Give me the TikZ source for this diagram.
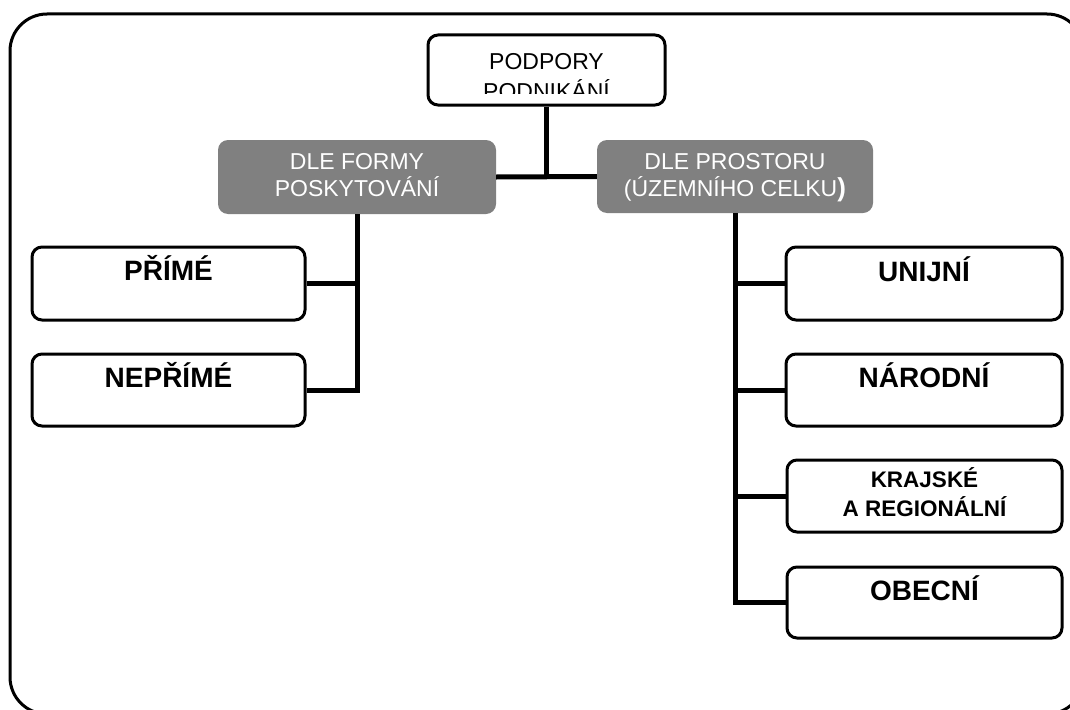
\documentclass[tikz,border=0pt]{standalone}
\usepackage{fontspec}
\setmainfont{Liberation Sans}
\definecolor{boxgrey}{RGB}{128,128,128}
\begin{document}
\begin{tikzpicture}[x=1pt,y=-1pt,
  box/.style={draw=black, line width=3pt, rounded corners=10pt, fill=white, inner sep=0pt},
  greybox/.style={fill=boxgrey, rounded corners=10pt, inner sep=0pt},
  reg/.style={font=\fontsize{23}{27}\selectfont, inner sep=0pt, anchor=base},
  boldtxt/.style={font=\fontsize{28}{28}\selectfont\bfseries, inner sep=0pt, anchor=base},
  smallbold/.style={font=\fontsize{22.5}{22.5}\selectfont\bfseries, inner sep=0pt, anchor=base},
  conn/.style={line width=5pt}]
\useasboundingbox (0,0) rectangle (1070,709);
\fill[white] (0,0) rectangle (1070,709);
\clip (0,0) rectangle (1070,709);
% outer frame
\draw[line width=3pt, rounded corners=37pt] (10,14) rectangle (1084,714);
% connectors
\path (546.5,70) coordinate (ctop) (357,177) coordinate (clg) (735,176.5) coordinate (crg);
\node[box, minimum width=237pt, minimum height=70pt] (top) at (ctop) {};
\node[greybox, minimum width=278pt, minimum height=74pt] (lg) at (clg) {};
\node[greybox, minimum width=276pt, minimum height=73pt] (rg) at (crg) {};
\node[box, minimum width=273pt, minimum height=73pt] (b1) at (168.5,283.5) {};
\node[box, minimum width=273pt, minimum height=72pt] (b2) at (168.5,390) {};
\node[box, minimum width=276pt, minimum height=73pt] (r1) at (924,283.5) {};
\node[box, minimum width=276pt, minimum height=72pt] (r2) at (924,390) {};
\node[box, minimum width=275pt, minimum height=72pt] (r3) at (924.5,496) {};
\node[box, minimum width=275pt, minimum height=71pt] (r4) at (924.5,602.5) {};
\draw[conn] (top.south) -- (top.south |- lg.east);
\draw[conn] (lg.east) -- (rg.west);
\draw[conn] (lg.south) |- (b2.east);
\draw[conn] (b1.east) -- (b1.east -| lg.south);
\draw[conn] (rg.south) |- (r4.west);
\draw[conn] (r1.west) -- (r1.west -| rg.south);
\draw[conn] (r2.west) -- (r2.west -| rg.south);
\draw[conn] (r3.west) -- (r3.west -| rg.south);
% texts
\begin{scope}
\clip (428,35) rectangle (665,93);
\node[reg] (t1a) at (546.5,70) {PODPORY};
\node[reg] (t1b) at (546.5,99) {PODNIKÁNÍ};
\end{scope}
\node[reg, text=white] (lga) at (357,169) {DLE FORMY};
\node[reg, text=white] (lgb) at (357,196) {POSKYTOVÁNÍ};
\node[reg, text=white] (rga) at (735,169) {DLE PROSTORU};
\node[reg, text=white] (rgb) at (735,196) {(ÚZEMNÍHO CELKU{\fontsize{26}{26}\selectfont\bfseries )}};
\node[boldtxt] (tb1) at (168.5,280) {PŘÍMÉ};
\node[boldtxt] (tb2) at (168.5,387) {NEPŘÍMÉ};
\node[boldtxt] (tr1) at (924,281) {UNIJNÍ};
\node[boldtxt] (tr2) at (924,387) {NÁRODNÍ};
\node[smallbold] (tr3a) at (924.5,487) {KRAJSKÉ};
\node[smallbold] (tr3b) at (924.5,516) {A REGIONÁLNÍ};
\node[boldtxt] (tr4) at (924.5,600) {OBECNÍ};
\end{tikzpicture}
\end{document}
